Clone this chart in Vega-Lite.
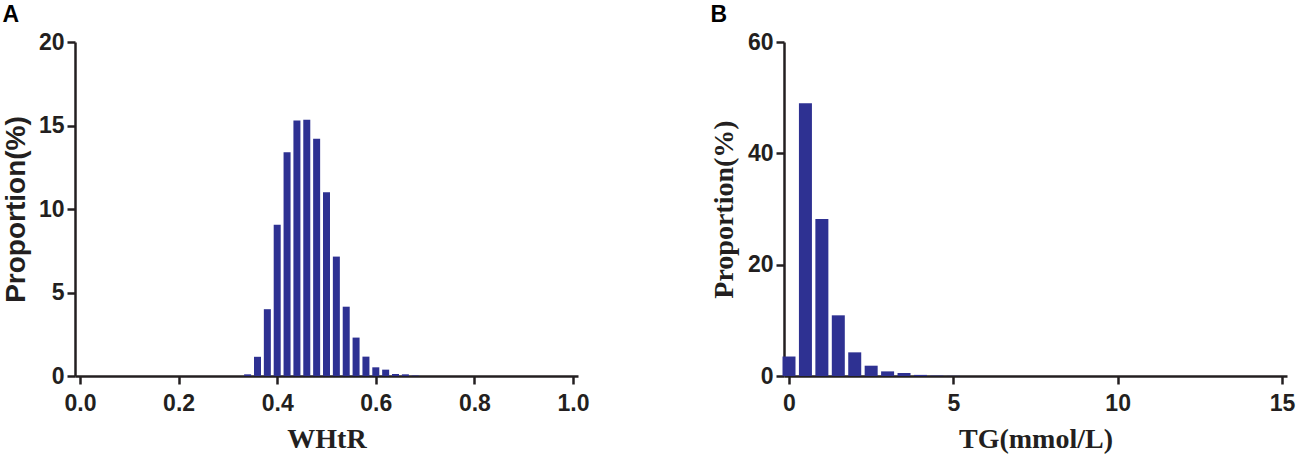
{
  "$schema": "https://vega.github.io/schema/vega-lite/v6.json",
  "padding": {"left": 2, "top": 4, "right": 5, "bottom": 5},
  "spacing": 121,
  "config": {
    "view": {"stroke": null},
    "font": "Liberation Sans",
    "axis": {
      "grid": false,
      "domainColor": "#231f20",
      "domainWidth": 2.5,
      "tickColor": "#231f20",
      "tickWidth": 2.5,
      "tickSize": 8,
      "labelFont": "Liberation Sans",
      "labelFontWeight": "bold",
      "labelFontSize": 23,
      "labelColor": "#231f20",
      "titleColor": "#231f20",
      "titleFontWeight": "bold",
      "titleFontSize": 28
    },
    "title": {"fontSize": 23, "fontWeight": "bold", "font": "Liberation Sans", "anchor": "start", "frame": "bounds", "color": "#000000"}
  },
  "datasets": {
    "whtr": [
      {"WHtR": 0.34, "Proportion": 0.1},
      {"WHtR": 0.36, "Proportion": 1.15},
      {"WHtR": 0.38, "Proportion": 4.0},
      {"WHtR": 0.40, "Proportion": 9.05},
      {"WHtR": 0.42, "Proportion": 13.4},
      {"WHtR": 0.44, "Proportion": 15.3},
      {"WHtR": 0.46, "Proportion": 15.35},
      {"WHtR": 0.48, "Proportion": 14.2},
      {"WHtR": 0.50, "Proportion": 11.0},
      {"WHtR": 0.52, "Proportion": 7.15},
      {"WHtR": 0.54, "Proportion": 4.15},
      {"WHtR": 0.56, "Proportion": 2.3},
      {"WHtR": 0.58, "Proportion": 1.16},
      {"WHtR": 0.60, "Proportion": 0.52},
      {"WHtR": 0.62, "Proportion": 0.38},
      {"WHtR": 0.64, "Proportion": 0.12},
      {"WHtR": 0.66, "Proportion": 0.1},
      {"WHtR": 0.68, "Proportion": 0.03}
    ],
    "tg": [
      {"TG": 0.0, "Proportion": 3.5},
      {"TG": 0.5, "Proportion": 49.0},
      {"TG": 1.0, "Proportion": 28.2},
      {"TG": 1.5, "Proportion": 10.9},
      {"TG": 2.0, "Proportion": 4.25},
      {"TG": 2.5, "Proportion": 1.85},
      {"TG": 3.0, "Proportion": 0.83},
      {"TG": 3.5, "Proportion": 0.54},
      {"TG": 4.0, "Proportion": 0.2},
      {"TG": 4.5, "Proportion": 0.07},
      {"TG": 5.0, "Proportion": 0.03}
    ]
  },
  "hconcat": [
    {
      "width": 503,
      "height": 334,
      "title": {"text": "A", "offset": 4},
      "data": {"name": "whtr"},
      "mark": {"type": "bar", "width": 7, "color": "#2e3192"},
      "encoding": {
        "x": {
          "field": "WHtR",
          "type": "quantitative",
          "scale": {"domain": [0, 1], "nice": false, "zero": false},
          "axis": {
            "title": "WHtR",
            "titleFont": "Liberation Serif",
            "values": [0, 0.2, 0.4, 0.6, 0.8, 1.0],
            "format": ".1f",
            "labelPadding": 8,
            "titlePadding": 10
          }
        },
        "y": {
          "field": "Proportion",
          "type": "quantitative",
          "scale": {"domain": [0, 20], "nice": false},
          "axis": {
            "title": "Proportion(%)",
            "titleFont": "Liberation Sans",
            "values": [0, 5, 10, 15, 20],
            "labelPadding": 3,
            "titlePadding": 8
          }
        }
      }
    },
    {
      "width": 503,
      "height": 334,
      "title": {"text": "B", "offset": 4},
      "data": {"name": "tg"},
      "mark": {"type": "bar", "width": 13, "color": "#2e3192"},
      "encoding": {
        "x": {
          "field": "TG",
          "type": "quantitative",
          "scale": {"domain": [0, 15], "nice": false, "zero": false},
          "axis": {
            "title": "TG(mmol/L)",
            "titleFont": "Liberation Serif",
            "values": [0, 5, 10, 15],
            "labelPadding": 8,
            "titlePadding": 10
          }
        },
        "y": {
          "field": "Proportion",
          "type": "quantitative",
          "scale": {"domain": [0, 60], "nice": false},
          "axis": {
            "title": "Proportion(%)",
            "titleFont": "Liberation Serif",
            "values": [0, 20, 40, 60],
            "labelPadding": 3,
            "titlePadding": 9
          }
        }
      }
    }
  ]
}
